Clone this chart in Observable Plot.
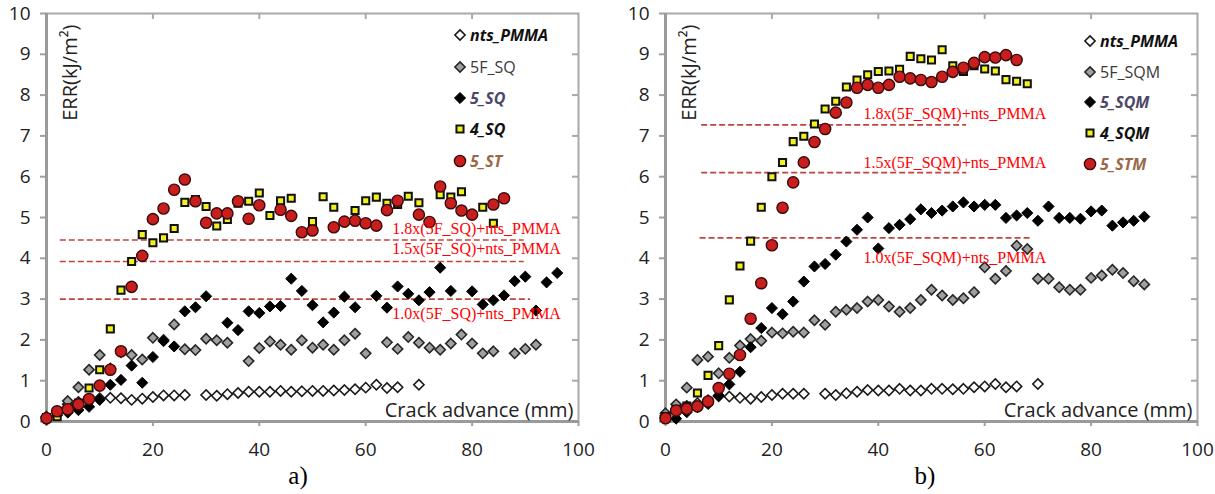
<!DOCTYPE html>
<html><head><meta charset="utf-8">
<script src="https://cdn.jsdelivr.net/npm/d3@7"></script>
<script src="https://cdn.jsdelivr.net/npm/@observablehq/plot@0.6"></script>
<style>
body{margin:0;background:#fff;overflow:hidden;font-family:"Open Sans",sans-serif}
#wrap{position:relative;width:1215px;height:494px}
.panel{position:absolute;top:0}
.leg{position:absolute;white-space:nowrap;display:flex;align-items:center;font-family:"Open Sans",sans-serif;font-size:16px;line-height:20px;transform:translateY(-50%)}
.leg svg{margin-right:2px}
.cap{position:absolute;font-family:"Liberation Serif",serif;font-size:25px;transform:translate(-50%,-50%)}
</style></head><body><div id="wrap"></div><script>
// ---------- Panel a) ----------
const aNtsX = [0,2,4,6,8,10,12,14,16,18,20,22,24,26,30,32,34,36,38,40,42,44,46,48,50,52,54,56,58,60,62,64,66,70];
const aNtsY = [0.10,0.22,0.42,0.48,0.52,0.57,0.58,0.57,0.53,0.56,0.60,0.64,0.64,0.65,0.65,0.63,0.67,0.70,0.73,0.73,0.73,0.75,0.73,0.74,0.75,0.75,0.76,0.77,0.79,0.83,0.90,0.82,0.84,0.90];
const a5FX = [0,2,4,6,8,10,12,14,16,18,20,22,24,26,28,30,32,34,38,40,42,44,46,48,50,52,54,56,58,60,64,66,68,70,72,74,76,78,80,82,84,88,90,92];
const a5FY = [0.12,0.25,0.50,0.84,1.27,1.63,1.30,1.70,1.63,1.52,2.05,2.00,2.38,1.77,1.75,2.03,1.99,1.93,1.48,1.80,1.96,1.88,1.76,1.99,1.81,1.88,1.76,1.99,2.15,1.67,1.94,1.78,2.07,1.93,1.81,1.76,1.91,2.13,1.91,1.67,1.72,1.67,1.78,1.88];
const a5SX = [0,2,4,6,8,10,12,14,16,18,20,22,24,26,28,30,34,36,38,40,42,44,46,48,50,52,54,56,58,62,64,66,68,70,72,74,76,80,82,84,86,88,90,92,94,96];
const a5SY = [0.05,0.15,0.22,0.28,0.36,0.53,0.90,1.02,1.37,0.95,1.58,1.97,1.84,2.70,2.80,3.07,2.42,2.24,2.70,2.66,2.82,2.83,3.50,3.20,2.85,2.43,2.67,3.06,2.80,3.08,2.79,3.31,3.13,2.97,3.17,3.77,3.20,3.19,2.87,2.97,3.09,3.44,3.55,2.72,3.41,3.64];
const a4SX = [0,2,4,6,8,10,12,14,16,18,20,22,24,26,28,30,32,34,36,38,40,42,44,46,50,52,54,58,60,62,64,66,68,70,74,76,78,82,84];
const a4SY = [0.10,0.12,0.30,0.45,0.82,1.27,2.27,3.22,3.92,4.58,4.38,4.50,4.73,5.37,5.44,5.27,4.79,4.95,5.35,5.40,5.60,5.05,5.41,5.47,4.90,5.51,5.25,5.17,5.41,5.50,5.35,5.32,5.52,5.36,5.56,5.50,5.63,5.25,4.86];
const a5TX = [0,2,4,6,8,10,12,14,16,18,20,22,24,26,28,30,32,34,36,38,40,44,46,48,50,54,56,58,60,62,64,66,70,72,74,76,78,80,84,86];
const a5TY = [0.08,0.25,0.30,0.42,0.55,0.88,1.27,1.72,3.30,4.06,4.96,5.22,5.68,5.93,5.40,4.87,5.10,5.10,5.40,4.97,5.30,5.19,5.04,4.64,4.68,4.76,4.90,4.92,4.86,4.80,5.18,5.41,5.07,4.89,5.76,5.35,5.17,5.07,5.32,5.47];
const aLineY = [4.45, 3.92, 3.00];
const aLineX1 = [2.6, 2.6, 2.6];
const aLineX2 = [89.8, 89.8, 91];
const aLabelText = ["1.8x(5F_SQ)+nts_PMMA", "1.5x(5F_SQ)+nts_PMMA", "1.0x(5F_SQ)+nts_PMMA"];
const aLabelX = [65, 65, 65];
const aLabelY = [4.73, 4.24, 2.65];
const aNames = ["nts_PMMA", "5F_SQ", "5_SQ", "4_SQ", "5_ST"];

// ---------- Panel b) ----------
const bNtsX = [0,2,4,6,8,10,12,14,16,18,20,22,24,26,30,32,34,36,38,40,42,44,46,48,50,52,54,56,58,60,62,64,66,70];
const bNtsY = [0.15,0.30,0.38,0.45,0.52,0.62,0.61,0.58,0.56,0.60,0.65,0.68,0.68,0.68,0.68,0.65,0.69,0.73,0.77,0.76,0.76,0.80,0.76,0.76,0.80,0.80,0.79,0.80,0.84,0.86,0.92,0.84,0.86,0.92];
const b5FX = [0,2,4,6,8,10,12,14,16,18,20,22,24,26,28,30,32,34,36,38,40,42,44,46,48,50,52,54,56,58,60,62,64,66,68,70,72,74,76,78,80,82,84,86,88,90];
const b5FY = [0.20,0.42,0.83,1.51,1.59,1.18,1.56,1.86,2.02,1.98,2.18,2.16,2.20,2.18,2.48,2.37,2.69,2.74,2.78,2.94,2.98,2.82,2.69,2.78,2.98,3.23,3.09,2.98,3.02,3.17,3.78,3.50,3.69,4.31,4.23,3.50,3.50,3.29,3.23,3.23,3.52,3.58,3.72,3.64,3.44,3.36];
const b5SX = [0,2,4,6,8,10,12,14,16,18,20,22,24,26,28,30,32,34,36,38,40,42,44,46,48,50,52,54,56,58,60,62,64,66,68,70,72,74,76,78,80,82,84,86,88,90];
const b5SY = [0.10,0.07,0.23,0.35,0.43,0.64,0.91,1.22,1.82,2.29,2.78,2.63,2.94,3.43,3.80,3.86,4.09,4.41,4.70,5.00,4.24,4.74,4.82,4.96,5.20,5.11,5.17,5.27,5.37,5.27,5.31,5.31,4.99,5.05,5.11,4.92,5.27,4.99,4.99,4.97,5.15,5.17,4.80,4.88,4.92,5.02];
const b4SX = [0,2,4,6,8,10,12,14,16,18,20,22,24,26,28,30,32,34,36,38,40,42,44,46,48,50,52,54,56,58,60,62,64,66,68];
const b4SY = [0.12,0.30,0.38,0.70,1.13,1.86,2.98,3.81,4.42,5.25,6.00,6.35,6.86,6.99,7.29,7.66,7.85,8.20,8.37,8.50,8.58,8.59,8.63,8.95,8.89,8.86,9.11,8.72,8.58,8.72,8.64,8.59,8.38,8.34,8.28];
const b5TX = [0,2,4,6,8,10,12,14,16,18,20,22,24,26,28,30,32,34,36,38,40,42,44,46,48,50,52,54,56,58,60,62,64,66];
const b5TY = [0.08,0.27,0.31,0.37,0.49,0.82,1.17,1.63,2.52,3.39,4.32,5.24,5.86,6.35,6.85,7.17,7.57,7.82,8.18,8.25,8.18,8.25,8.45,8.41,8.37,8.32,8.45,8.57,8.67,8.79,8.93,8.92,8.98,8.86];
const bLineY = [7.27, 6.10, 4.50];
const bLineX1 = [6.8, 6.8, 6.5];
const bLineX2 = [56.6, 56.6, 69.1];
const bLabelText = ["1.8x(5F_SQM)+nts_PMMA", "1.5x(5F_SQM)+nts_PMMA", "1.0x(5F_SQM)+nts_PMMA"];
const bLabelX = [37.2, 37.2, 37.2];
const bLabelY = [7.55, 6.35, 4.02];
const bNames = ["nts_PMMA", "5F_SQM", "5_SQM", "4_SQM", "5_STM"];

// ---------- shared ticks ----------
const xTickValues = [0, 20, 40, 60, 80, 100];
const yTickValues = [0,1,2,3,4,5,6,7,8,9,10];
const topTickValues = [20, 40, 60, 80];
const rightTickValues = [1,2,3,4,5,6,7,8,9];

// ---------- styles ----------
const styles = [
  {symbol: "diamond2", r: 4.6, fill: "#ffffff", stroke: "#1a1a1a", strokeWidth: 1.6},
  {symbol: "diamond2", r: 4.6, fill: "#a0a0a0", stroke: "#262626", strokeWidth: 1.6},
  {symbol: "diamond2", r: 5.0, fill: "#000000", stroke: "#000000", strokeWidth: 1},
  {symbol: "square", r: 4.0, fill: "#f2f21c", stroke: "#111111", strokeWidth: 2},
  {symbol: "circle", r: 5.6, fill: "#c81e1e", stroke: "#3a0a0a", strokeWidth: 1.4}
];
const legendText = [
  {color: "#111", weight: 700, style: "italic"},
  {color: "#3a3a3a", weight: 400, style: "normal"},
  {color: "#4c4868", weight: 700, style: "italic"},
  {color: "#111", weight: 700, style: "italic"},
  {color: "#9a6a48", weight: 700, style: "italic"}
];

const zip = (xs, ys) => xs.map((x, i) => ({x, y: ys[i]}));

function panel(cfg) {
  const series = cfg.series.map(([xs, ys]) => zip(xs, ys));
  const lines = cfg.lineY.map((y, i) => ({y, x1: cfg.lineX1[i], x2: cfg.lineX2[i]}));
  const labels = cfg.labelText.map((t, i) => ({t, x: cfg.labelX[i], y: cfg.labelY[i]}));
  const marks = [
    Plot.frame({stroke: "#a9a9a9", strokeWidth: 2}),
    Plot.ruleX(topTickValues, {x: d => d, y1: 10, y2: 10, insetBottom: -6, stroke: "#a9a9a9", strokeWidth: 2}),
    Plot.ruleY(rightTickValues, {y: d => d, x1: 100, x2: 100, insetLeft: -6, stroke: "#a9a9a9", strokeWidth: 2}),
    Plot.axisY({ticks: yTickValues, tickSize: 6, tickPadding: 10, fontSize: 19, label: null, stroke: "#a0a0a0", strokeWidth: 2, color: "#222"}),
    Plot.axisX({ticks: xTickValues, tickSize: 5, tickPadding: 16, fontSize: 19, label: null, stroke: "#a0a0a0", strokeWidth: 2, color: "#222"}),
    Plot.ruleX([0], {stroke: "#9a9a9a", strokeWidth: 3}),
    Plot.ruleY([0], {stroke: "#9a9a9a", strokeWidth: 3}),
    Plot.ruleY(lines, {y: "y", x1: "x1", x2: "x2", stroke: "#c0453f", strokeWidth: 1.6, strokeDasharray: "6,3"}),
    ...series.map((d, i) => Plot.dot(d, {x: "x", y: "y", ...styles[i]})),
    Plot.text(labels, {x: "x", y: "y", text: "t", textAnchor: "start", fill: "#ff0000", fontFamily: "Liberation Serif", fontSize: 16}),
    Plot.text(["ERR(kJ/m²)"], {frameAnchor: "top-left", dx: 24, dy: 11, rotate: -90, textAnchor: "end", lineAnchor: "middle", fontSize: 20, fill: "#222"}),
    Plot.text(["Crack advance (mm)"], {frameAnchor: "bottom-right", dx: -5, dy: -11, textAnchor: "end", lineAnchor: "middle", fontSize: 20, fill: "#222"})
  ];
  return Plot.plot({
    width: cfg.width, height: 460,
    marginLeft: 46, marginRight: cfg.marginRight, marginTop: 13, marginBottom: 39,
    style: {fontFamily: "'Open Sans', sans-serif", background: "white", overflow: "visible"},
    x: {domain: [0, 100]},
    y: {domain: [0, 10]},
    marks
  });
}

function legendSymbol(i) {
  const s = styles[i];
  const sym = {diamond2: d3.symbolDiamond2, square: d3.symbolSquare, circle: d3.symbolCircle}[s.symbol];
  const size = s.r * s.r * Math.PI;
  const path = d3.symbol(sym, size)();
  return `<svg width="16" height="16" viewBox="-8 -8 16 16"><path d="${path}" fill="${s.fill}" stroke="${s.stroke}" stroke-width="${s.strokeWidth}"/></svg>`;
}

function addLegend(wrap, names, left, tops) {
  names.forEach((n, i) => {
    const d = document.createElement("div");
    d.className = "leg";
    d.style.left = left + "px";
    d.style.top = tops[i] + "px";
    const t = legendText[i];
    d.innerHTML = legendSymbol(i) + `<span style="color:${t.color};font-weight:${t.weight};font-style:${t.style}">${n}</span>`;
    wrap.appendChild(d);
  });
}

const wrap = document.getElementById("wrap");
const pa = document.createElement("div"); pa.className = "panel"; pa.style.left = "0px";
pa.appendChild(panel({
  series: [[aNtsX, aNtsY], [a5FX, a5FY], [a5SX, a5SY], [a4SX, a4SY], [a5TX, a5TY]],
  lineY: aLineY, lineX1: aLineX1, lineX2: aLineX2,
  labelText: aLabelText, labelX: aLabelX, labelY: aLabelY,
  width: 607, marginRight: 29
}));
wrap.appendChild(pa);
const pb = document.createElement("div"); pb.className = "panel"; pb.style.left = "619px";
pb.appendChild(panel({
  series: [[bNtsX, bNtsY], [b5FX, b5FY], [b5SX, b5SY], [b4SX, b4SY], [b5TX, b5TY]],
  lineY: bLineY, lineX1: bLineX1, lineX2: bLineX2,
  labelText: bLabelText, labelX: bLabelX, labelY: bLabelY,
  width: 596, marginRight: 18
}));
wrap.appendChild(pb);

addLegend(wrap, aNames, 452, [35, 67, 98, 129, 161]);
addLegend(wrap, bNames, 1082, [41, 72, 102, 133, 164]);

const ca = document.createElement("div"); ca.className = "cap"; ca.textContent = "a)"; ca.style.left = "298px"; ca.style.top = "476px"; wrap.appendChild(ca);
const cb = document.createElement("div"); cb.className = "cap"; cb.textContent = "b)"; cb.style.left = "925px"; cb.style.top = "476px"; wrap.appendChild(cb);
</script></body></html>
